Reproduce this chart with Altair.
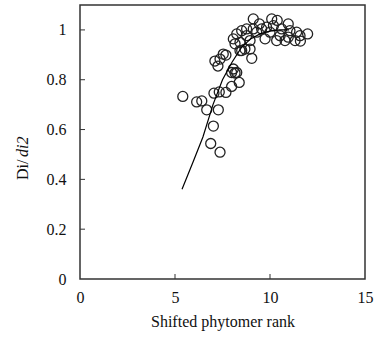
import altair as alt
import pandas as pd

# Observed points (shifted phytomer rank, Di/di2)
obs_x = [5.41, 6.14, 6.41, 6.67, 7.28, 7.05, 7.33, 7.68, 7.98, 8.38,
         7.02, 6.88, 7.37, 7.10, 7.26, 7.68, 7.98, 8.16, 8.68, 9.04,
         8.42, 9.12, 9.44, 10.09, 10.38, 10.96, 11.98, 11.58, 11.32, 10.79,
         10.35, 9.74, 9.30, 8.51, 8.25, 8.07, 8.16, 8.77, 8.95, 8.51,
         8.95, 7.54, 7.37, 8.07, 8.25, 9.82, 10.18, 10.61, 11.05, 11.40,
         9.56, 10.00, 10.53, 10.96, 8.77, 9.12, 8.42, 11.60]
obs_y = [0.733, 0.711, 0.715, 0.679, 0.679, 0.746, 0.751, 0.749, 0.773, 0.789,
         0.614, 0.544, 0.509, 0.875, 0.855, 0.899, 0.829, 0.827, 0.923, 0.886,
         0.917, 1.044, 1.024, 1.044, 1.038, 1.024, 0.984, 0.977, 0.957, 0.957,
         0.957, 0.964, 0.991, 0.997, 0.984, 0.964, 0.944, 0.977, 0.957, 0.917,
         0.923, 0.903, 0.883, 0.843, 0.829, 1.011, 1.017, 1.004, 0.997, 0.991,
         1.004, 0.991, 0.977, 0.971, 1.004, 1.004, 0.950, 0.955]

# Fitted curve
fit_x = [5.37, 5.95, 6.47, 7.0, 7.5, 8.0, 8.5, 9.0, 9.5, 10.0, 10.5, 11.0]
fit_y = [0.36, 0.47, 0.57, 0.70, 0.80, 0.87, 0.93, 0.965, 0.985, 0.995, 1.0, 1.0]

y_ticks = [0.2, 0.4, 0.6, 0.8, 1.0]
x_ticks = [5, 10]
title_parts = ["Di/ ", "di2"]

obs = pd.DataFrame({"x": obs_x, "y": obs_y})
fit = pd.DataFrame({"x": fit_x, "y": fit_y})

FONT = "Liberation Serif"
FS = 16
xscale = alt.Scale(domain=[0, 15], nice=False)
yscale = alt.Scale(domain=[0, 1.1], nice=False)

xaxis = alt.Axis(values=[0, 5, 10, 15], format="d", ticks=False, grid=False,
                 domain=False, labelFont=FONT, labelFontSize=FS, labelColor="#111",
                 labelPadding=10, title="Shifted phytomer rank", titleFont=FONT,
                 titleFontSize=FS, titleFontWeight="normal", titleColor="#111",
                 titlePadding=8, labelFlush=False)
yaxis = alt.Axis(values=[0, 0.2, 0.4, 0.6, 0.8, 1.0], format="~g", ticks=False,
                 grid=False, domain=False, labelFont=FONT, labelFontSize=FS,
                 labelColor="#111", labelPadding=14, title=None, labelFlush=False)

points = alt.Chart(obs).mark_point(shape="circle", filled=False, size=100,
                                   color="#222", strokeWidth=1.3, opacity=1).encode(
    x=alt.X("x:Q", scale=xscale, axis=xaxis),
    y=alt.Y("y:Q", scale=yscale, axis=yaxis),
)

line = alt.Chart(fit).mark_line(color="#000", strokeWidth=1.2).encode(
    x=alt.X("x:Q", scale=xscale),
    y=alt.Y("y:Q", scale=yscale),
)

yt = alt.Chart(pd.DataFrame({"v": y_ticks})).mark_rule(color="#333", strokeWidth=1).encode(
    y=alt.Y("v:Q", scale=yscale),
    x=alt.value(0), x2=alt.value(5),
)
xt = alt.Chart(pd.DataFrame({"v": x_ticks})).mark_rule(color="#333", strokeWidth=1).encode(
    x=alt.X("v:Q", scale=xscale),
    y=alt.value(274), y2=alt.value(269),
)

# y-axis title: "Di/ " upright, "di2" italic
t1 = alt.Chart(pd.DataFrame({"t": [title_parts[0]]})).mark_text(
    font=FONT, fontSize=FS, color="#111", angle=270, align="left",
    baseline="middle").encode(text="t:N", x=alt.value(-57), y=alt.value(175))
t2 = alt.Chart(pd.DataFrame({"t": [title_parts[1]]})).mark_text(
    font=FONT, fontSize=FS, color="#111", angle=270, align="left",
    baseline="middle", fontStyle="italic").encode(
    text="t:N", x=alt.value(-57), y=alt.value(152))

chart = alt.layer(points, line, yt, xt, t1, t2).properties(
    width=285, height=274,
    autosize=alt.AutoSizeParams(type="none"),
    padding={"left": 80, "top": 5, "right": 12, "bottom": 59},
    background="white",
).configure_view(stroke="#333", strokeWidth=1.5, clip=False)

chart.save("out.html", embed_options={"renderer": "svg", "actions": False})
